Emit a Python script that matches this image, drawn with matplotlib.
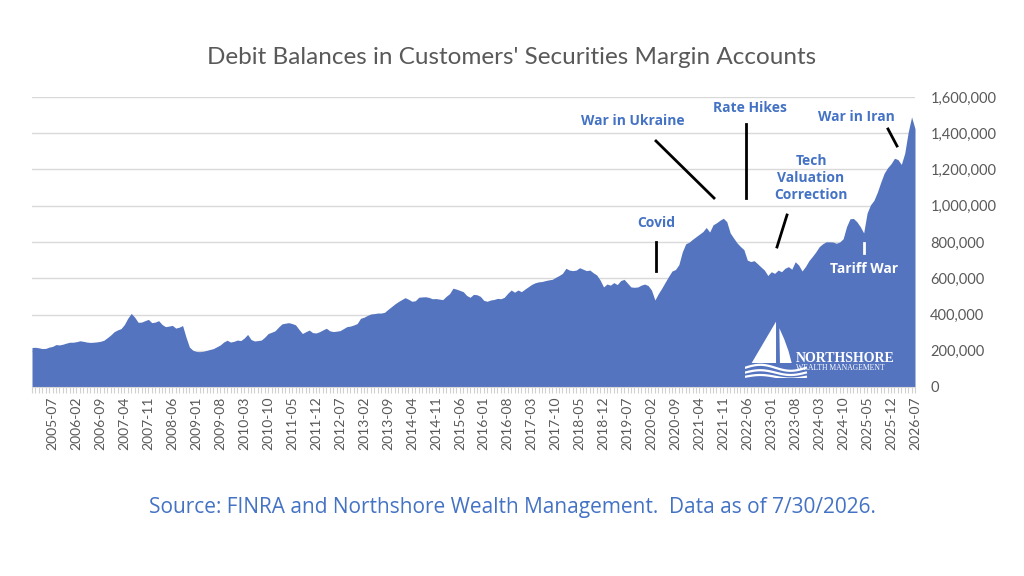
import matplotlib
matplotlib.use("Agg")
import matplotlib.pyplot as plt
import numpy as np
import pandas as pd

# monthly debit balances ($ millions), Jan 2005 .. Jul 2026
y2005 = [218, 219, 216, 212, 213, 220, 224, 234, 232, 236, 242, 247]
y2006 = [247, 250, 255, 252, 248, 246, 247, 249, 252, 258, 272, 287]
y2007 = [305, 315, 322, 345, 380, 406, 385, 357, 358, 366, 373, 355]
y2008 = [358, 366, 345, 333, 336, 340, 325, 330, 339, 275, 220, 203]
y2009 = [196, 195, 197, 202, 207, 212, 222, 232, 248, 258, 248, 252]
y2010 = [259, 256, 270, 290, 262, 254, 256, 259, 275, 295, 302, 310]
y2011 = [330, 348, 352, 355, 350, 343, 318, 295, 305, 314, 300, 298]
y2012 = [305, 315, 324, 310, 306, 308, 311, 322, 333, 336, 342, 350]
y2013 = [379, 385, 395, 403, 405, 408, 408, 412, 428, 443, 458, 471]
y2014 = [482, 493, 484, 473, 476, 495, 497, 498, 494, 487, 488, 485]
y2015 = [482, 500, 515, 545, 540, 533, 526, 505, 495, 511, 509, 500]
y2016 = [478, 473, 480, 483, 489, 487, 495, 517, 535, 523, 535, 526]
y2017 = [540, 553, 566, 575, 580, 582, 587, 591, 594, 605, 615, 627]
y2018 = [655, 645, 642, 645, 658, 650, 642, 645, 630, 618, 590, 552]
y2019 = [568, 562, 576, 565, 587, 594, 573, 552, 550, 552, 562, 568]
y2020 = [560, 535, 480, 515, 545, 578, 610, 640, 648, 675, 745, 790]
y2021 = [799, 815, 829, 843, 857, 880, 855, 895, 906, 920, 931, 912]
y2022 = [850, 822, 795, 775, 758, 700, 692, 697, 680, 662, 645, 615]
y2023 = [636, 627, 645, 636, 655, 664, 650, 691, 673, 640, 665, 697]
y2024 = [720, 745, 774, 790, 801, 801, 800, 793, 800, 818, 885, 928]
y2025 = [930, 912, 885, 850, 960, 1005, 1030, 1075, 1130, 1180, 1210, 1232]
y2026 = [1262, 1255, 1228, 1290, 1405, 1490, 1425]

values = np.array(y2005 + y2006 + y2007 + y2008 + y2009 + y2010 + y2011 + y2012
                  + y2013 + y2014 + y2015 + y2016 + y2017 + y2018 + y2019 + y2020
                  + y2021 + y2022 + y2023 + y2024 + y2025 + y2026) * 1000
months = pd.period_range("2005-01", periods=len(values), freq="M").strftime("%Y-%m")

BLUE = "#5574BF"
TEXT_BLUE = "#4472C4"
GRAY = "#595959"

fig = plt.figure(figsize=(10.24, 5.76), dpi=100)
ax = fig.add_axes([32 / 1024, 1 - 387 / 576, 883 / 1024, 290 / 576])

x = np.arange(len(values))
ax.fill_between(x, values, 0, color=BLUE, lw=0, zorder=2)

ax.set_xlim(0, len(values) - 1)
ax.set_ylim(0, 1600000)
ax.set_yticks(np.arange(0, 1600001, 200000))
ax.yaxis.tick_right()
ax.yaxis.set_major_formatter(matplotlib.ticker.FuncFormatter(lambda v, p: f"{int(v):,}"))
ax.tick_params(axis="y", length=0, pad=11, labelsize=10.5, labelcolor=GRAY)
ax.grid(axis="y", color="#D9D9D9", lw=1, zorder=1)

ticks = x[6::7]
ax.set_xticks(ticks)
ax.set_xticklabels([months[i] for i in ticks], rotation=90, fontsize=10, color=GRAY)
ax.set_xticks(x, minor=True)
ax.tick_params(axis="x", which="both", length=4, width=0.8, color="#D0D0D0", pad=3)
for s in ["top", "left", "right"]:
    ax.spines[s].set_visible(False)
ax.spines["bottom"].set_color("#D9D9D9")

for lbl in ax.get_xticklabels() + ax.get_yticklabels():
    lbl.set_family("Lato")


def px(x, y):
    return (x / 1024, 1 - y / 576)


fig.text(*px(512, 58), "Debit Balances in Customers' Securities Margin Accounts",
         ha="center", va="center", fontsize=17.5, color=GRAY, family="Lato")

notes = [
    ("War in Ukraine", 633, 121, TEXT_BLUE),
    ("Rate Hikes", 750, 108, TEXT_BLUE),
    ("War in Iran", 856, 117, TEXT_BLUE),
    ("Tech\nValuation\nCorrection", 811, 178, TEXT_BLUE),
    ("Covid", 656, 223, TEXT_BLUE),
    ("Tariff War", 864, 269, "white"),
]
for txt, tx, ty, c in notes:
    fig.text(*px(tx, ty), txt, ha="center", va="center", fontsize=10,
             fontweight="bold", color=c, family="Open Sans", linespacing=1.25)

lines = [
    ((656, 141), (714, 198), "black"),
    ((746, 124), (746, 198), "black"),
    ((888, 129), (897, 146), "black"),
    ((787, 215), (777, 247), "black"),
    ((656, 242), (656, 271), "black"),
    ((864, 243), (864, 253), "white"),
]
for (x0, y0), (x1, y1), c in lines:
    a, b = px(x0, y0), px(x1, y1)
    fig.add_artist(plt.Line2D([a[0], b[0]], [a[1], b[1]], color=c, lw=2,
                              transform=fig.transFigure))

# logo
logo = fig.add_axes([745 / 1024, 1 - 378 / 576, 145 / 1024, 60 / 576])
logo.set_xlim(0, 1)
logo.set_ylim(0, 1)
logo.axis("off")
logo.fill([0.214, 0.046, 0.214], [0.94, 0.25, 0.25], color="white", lw=0)
logo.fill([0.237, 0.27, 0.30, 0.322, 0.241], [0.83, 0.65, 0.45, 0.25, 0.25],
          color="white", lw=0)
u = np.linspace(0.0, 0.42, 60)
for off, amp in [(0.17, 0.05), (0.09, 0.04), (0.02, 0.03)]:
    logo.plot(u, off + amp * np.sin(u / 0.42 * 2 * np.pi), color="white", lw=1.6)
logo.text(0.35, 0.33, "NORTHSHORE", color="white", fontsize=10, fontweight="bold",
          family="Liberation Serif", va="center", ha="left")
logo.text(0.355, 0.17, "WEALTH MANAGEMENT", color="white", fontsize=5.5,
          family="Liberation Serif", va="center", ha="left")

fig.text(*px(512, 508), "Source: FINRA and Northshore Wealth Management.  Data as of 7/30/2026.",
         ha="center", va="center", fontsize=15, color=TEXT_BLUE, family="Open Sans")

fig.savefig("out.png", dpi=100, facecolor="white")
